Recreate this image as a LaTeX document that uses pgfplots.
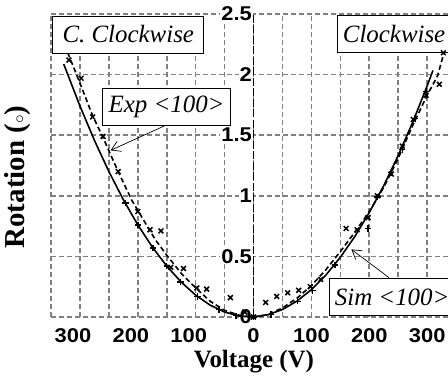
\documentclass[border=0pt]{standalone}
\usepackage{pgfplots}
\pgfplotsset{compat=1.18}
\usetikzlibrary{arrows.meta}
\usepackage{fontspec}
\setmainfont{Liberation Serif}
\newfontfamily\tickfont[FakeStretch=1.1]{Liberation Sans}

% simulated rotation, solid line
\pgfplotstableread{
V R
-328 2.087
-300 1.741
-275 1.458
-250 1.200
-225 0.968
-200 0.760
-175 0.578
-150 0.420
-125 0.288
-100 0.180
-75 0.098
-50 0.041
-25 0.008
-5 0.000
0 0.001
25 0.018
50 0.062
75 0.131
100 0.226
125 0.346
150 0.493
175 0.664
200 0.862
225 1.084
250 1.333
275 1.607
300 1.907
310 2.034
}\simline

% fit to measured rotation, dashed line
\pgfplotstableread{
V R
-321 2.18
-300 1.93
-278 1.66
-260 1.48
-234 1.20
-210 0.96
-190 0.80
-170 0.64
-150 0.51
-125 0.36
-100 0.24
-75 0.13
-50 0.055
-25 0.015
0 0.0
25 0.02
50 0.075
75 0.155
100 0.26
125 0.39
150 0.54
175 0.70
200 0.87
225 1.07
250 1.31
275 1.58
300 1.83
318 1.99
329 2.18
}\expline

% measured points
\pgfplotstableread{
V R
-319 2.12
-298 1.97
-278 1.65
-260 1.49
-234 1.20
-200 0.87
-179 0.72
-160 0.71
-143 0.41
-121 0.40
-98 0.24
-81 0.23
-40 0.16
-15 0.04
0 0.0
21 0.12
40 0.17
59 0.20
78 0.22
98 0.25
116 0.31
160 0.73
179 0.72
198 0.82
214 1.00
238 1.18
257 1.41
276 1.63
298 1.83
321 1.92
328 2.18
}\exppts

% simulated points
\pgfplotstableread{
V R
-221 0.94
-200 0.76
-174 0.57
-150 0.42
-126 0.29
-97 0.17
-60 0.06
-30 0.01
0 0.0
30 0.02
76 0.13
102 0.22
141 0.43
198 0.73
214 0.99
238 1.19
257 1.38
279 1.64
298 1.86
}\simpts

\begin{document}
\begin{tikzpicture}
\begin{axis}[
  scale only axis, width=397bp, height=303bp,
  xmin=-350, xmax=336, ymin=0, ymax=2.5,
  xtick={-350,-300,...,300},
  xticklabels={,,,,,,,,,,,,,},
  extra x ticks={-312,-212,-112,0,100,200,300},
  extra x tick labels={300,200,100,0,100,200,300},
  extra x tick style={grid=none},
  ytick={0,0.5,...,2.5},
  yticklabels={0,0.5,1,1.5,2,2.5},
  grid=major,
  major grid style={black!50, line width=1.6bp, dash pattern=on 5bp off 3bp},
  axis line style={draw=none},
  major tick length=0pt,
  tick style={draw=none},
  ticklabel style={font=\tickfont\bfseries\fontsize{20}{20}\selectfont},
  yticklabel style={anchor=east, xshift=202bp, inner sep=1bp, fill=white},
  xticklabel style={anchor=north, inner sep=0bp, yshift=-11bp},
  xlabel={Voltage (V)},
  ylabel={Rotation ({\fontsize{18}{18}\selectfont$\circ$})},
  xlabel style={font=\bfseries\fontsize{25}{25}\selectfont,
    at={(axis description cs:0.511,-0.11)}, anchor=north, inner sep=0bp},
  ylabel style={font=\bfseries\fontsize{29}{29}\selectfont,
    at={(axis description cs:-0.085,0.462)}, anchor=center},
  clip=false,
]
% zero-voltage divider
\addplot[black, line width=1.4bp, dash pattern=on 8bp off 2.5bp] coordinates {(0,0) (0,2.5)};

\addplot[black, line width=1.6bp, no marks] table[x=V,y=R] {\simline};
\addplot[black, line width=1.6bp, dash pattern=on 5bp off 3bp, no marks] table[x=V,y=R] {\expline};
\addplot[black, only marks, mark=x, mark size=3.4bp, line width=1.5bp] table[x=V,y=R] {\exppts};
\addplot[black, only marks, mark=+, mark size=3.2bp, line width=1.4bp] table[x=V,y=R] {\simpts};

\tikzset{lbl/.style={draw=black, line width=0.7bp, fill=white, font=\itshape\fontsize{25}{25}\selectfont, inner xsep=6bp, minimum height=37bp}}

\draw[line width=0.7bp, -{Straight Barb[length=9bp, width=11bp]}] (axis cs:-148,1.59) -- (axis cs:-247,1.375);
\draw[line width=0.7bp, -{Straight Barb[length=9bp, width=11bp]}] (axis cs:234,0.325) -- (axis cs:169,0.558);

\node[lbl, minimum width=151bp] at (axis cs:-216.4,2.331) {C. Clockwise};
\node[lbl, anchor=west] at (axis cs:143.4,2.335) {Clockwise};
\node[lbl, minimum width=120bp] at (axis cs:-150.3,1.733) {Exp {<}100{>}};
\node[lbl, anchor=west] at (axis cs:129.6,0.165) {Sim {<}100{>}};
\end{axis}
\pgfresetboundingbox
\path (-51bp,-66bp) rectangle (397bp,317bp);
\end{tikzpicture}
\end{document}
